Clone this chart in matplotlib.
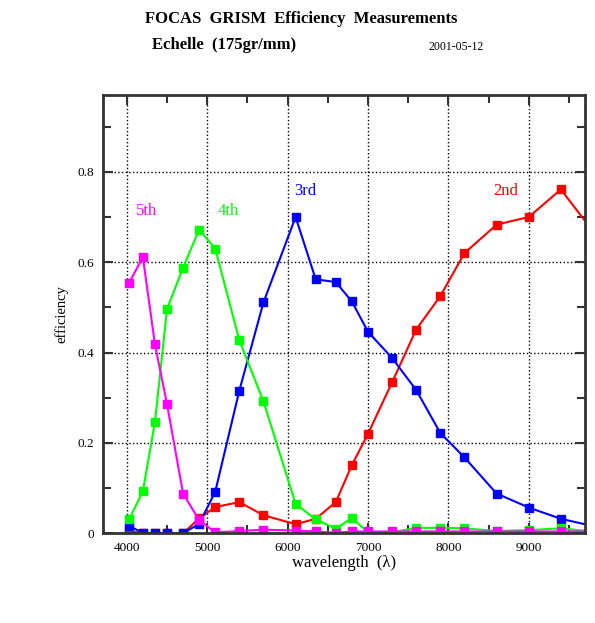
import matplotlib
matplotlib.use("Agg")
import matplotlib.pyplot as plt
from matplotlib.ticker import MultipleLocator, FuncFormatter

plt.rcParams['font.family'] = ['Liberation Serif', 'DejaVu Serif']

# wavelengths of the measurements (last one lies past the right edge)
wave = [4030, 4200, 4350, 4500, 4700, 4900, 5100, 5400, 5700, 6100, 6350,
        6600, 6800, 7000, 7300, 7600, 7900, 8200, 8600, 9000, 9400, 10000]

eff_2nd = [0.004, 0.001, 0.0, 0.0, 0.0, 0.033, 0.058, 0.069, 0.040, 0.020, 0.032,
           0.069, 0.151, 0.220, 0.334, 0.451, 0.525, 0.620, 0.683, 0.700, 0.761, 0.622]
eff_3rd = [0.016, 0.001, 0.0, 0.0, 0.0, 0.021, 0.092, 0.316, 0.511, 0.700, 0.562,
           0.556, 0.513, 0.446, 0.388, 0.317, 0.222, 0.168, 0.088, 0.057, 0.032, 0.008]
eff_4th = [0.031, 0.093, 0.246, 0.496, 0.588, 0.672, 0.630, 0.427, 0.292, 0.065, 0.031,
           0.010, 0.034, 0.002, 0.002, 0.012, 0.012, 0.011, 0.005, 0.007, 0.011, 0.0]
eff_5th = [0.555, 0.611, 0.418, 0.286, 0.088, 0.029, 0.002, 0.005, 0.008, 0.006, 0.004,
           0.001, 0.004, 0.004, 0.004, 0.004, 0.004, 0.004, 0.004, 0.004, 0.004, 0.004]

orders = ["2nd", "3rd", "4th", "5th"]
colors = ["#ff0000", "#0000ff", "#00ff00", "#ff00ff"]
label_pos = [(8714, 0.757), (6224, 0.757), (5262, 0.714), (4248, 0.714)]

fig = plt.figure(figsize=(5.95, 6.23), dpi=100)
ax = fig.add_axes([0.1726, 0.144, 0.8106, 0.7035])

for y, c in zip([eff_2nd, eff_3rd, eff_4th, eff_5th], colors):
    ax.plot(wave, y, color=c, lw=1.5, marker='s', ms=6, mec=c, mfc=c)

for name, c, (lx, ly) in zip(orders, colors, label_pos):
    ax.text(lx, ly, name, color=c, fontsize=12, ha='center', va='center')

ax.set_xlim(3700, 9700)
ax.set_ylim(0, 0.97)
ax.xaxis.set_major_locator(MultipleLocator(1000))
ax.xaxis.set_minor_locator(MultipleLocator(500))
ax.yaxis.set_major_locator(MultipleLocator(0.2))
ax.yaxis.set_minor_locator(MultipleLocator(0.1))
ax.yaxis.set_major_formatter(FuncFormatter(lambda v, p: "0" if abs(v) < 1e-9 else "%.1f" % v))
ax.xaxis.set_major_formatter(FuncFormatter(lambda v, p: "%d" % v))

ax.grid(True, which='major', color='black', ls=':', lw=1)
ax.tick_params(which='both', direction='in', top=True, right=True,
               color='#333333', width=1.5, labelsize=9.5)
ax.tick_params(which='major', length=7, pad=6)
ax.tick_params(which='minor', length=6)
for s in ax.spines.values():
    s.set_linewidth(2)
    s.set_color('#333333')

ax.set_xlabel("wavelength  (\u03bb)", fontsize=12, labelpad=1)
ax.set_ylabel("efficiency", fontsize=10.5, labelpad=7)

fig.text(0.506, 0.969, "FOCAS  GRISM  Efficiency  Measurements", fontsize=12,
         fontweight='bold', ha='center', va='center')
fig.text(0.376, 0.927, "Echelle  (175gr/mm)", fontsize=12,
         fontweight='bold', ha='center', va='center')
fig.text(0.766, 0.925, "2001-05-12", fontsize=8.5, ha='center', va='center')

fig.savefig("out.png", dpi=100)
